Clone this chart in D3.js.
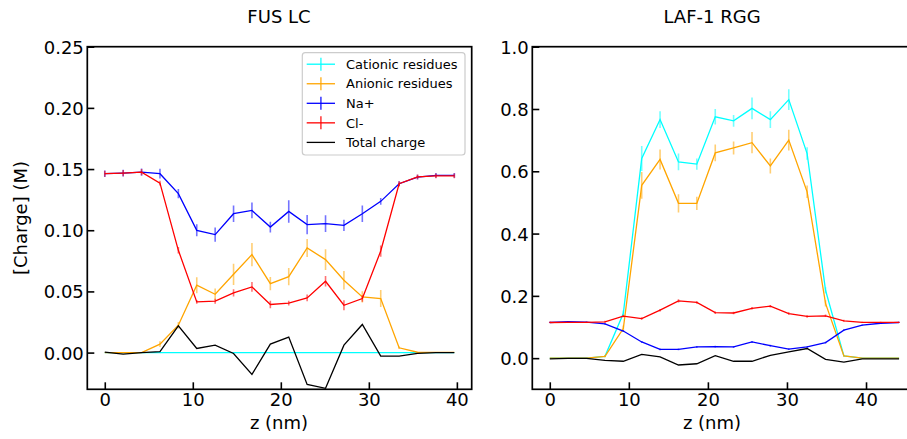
<!DOCTYPE html>
<html>
<head>
<meta charset="utf-8">
<script src="https://cdn.jsdelivr.net/npm/d3@7/dist/d3.min.js"></script>
<style>
  html, body { margin: 0; padding: 0; background: #fff; }
  svg { display: block; font-family: "DejaVu Sans", sans-serif; }
</style>
</head>
<body>
<svg id="chart" width="907" height="439"></svg>
<script>
// ---------- DATA ----------
const seriesNames = ["Cationic residues", "Anionic residues", "Na+", "Cl-", "Total charge"];
const xTicks = [0, 10, 20, 30, 40];
const fusYTicks = [0.00, 0.05, 0.10, 0.15, 0.20, 0.25];
const lafYTicks = [0.0, 0.2, 0.4, 0.6, 0.8, 1.0];

// FUS LC
const fusZ = [0, 2.09, 4.18, 6.27, 8.36, 10.45, 12.54, 14.63, 16.72, 18.81, 20.9, 22.99, 25.08, 27.17, 29.26, 31.35, 33.44, 35.53, 37.62, 39.71];
const fusCat = [0, 0, 0, 0, 0, 0, 0, 0, 0, 0, 0, 0, 0, 0, 0, 0, 0, 0, 0, 0];
const fusCatErr = [0, 0, 0, 0, 0, 0, 0, 0, 0, 0, 0, 0, 0, 0, 0, 0, 0, 0, 0, 0];
const fusAn = [0, 0, 0, 0.0069, 0.0224, 0.0551, 0.0477, 0.0640, 0.0801, 0.0564, 0.0621, 0.0855, 0.0760, 0.0591, 0.0455, 0.0442, 0.0039, 0.0003, 0.0002, 0.0001];
const fusAnErr = [0, 0, 0, 0.0024, 0.0027, 0.0065, 0.0046, 0.0087, 0.0095, 0.0054, 0.0070, 0.0074, 0.0084, 0.0076, 0.0046, 0.0070, 0.0010, 0, 0, 0];
const fusNa = [0.1462, 0.1467, 0.1475, 0.1462, 0.1299, 0.0999, 0.0964, 0.1135, 0.1162, 0.1026, 0.1154, 0.1046, 0.1054, 0.1040, 0.1135, 0.1236, 0.1380, 0.1434, 0.1448, 0.1448];
const fusNaErr = [0.0027, 0.0027, 0.0030, 0.0040, 0.0037, 0.0049, 0.0058, 0.0068, 0.0064, 0.0044, 0.0092, 0.0079, 0.0068, 0.0046, 0.0068, 0.0027, 0.0020, 0.0020, 0.0020, 0.0020];
const fusCl = [0.1462, 0.1467, 0.1475, 0.1385, 0.0836, 0.0414, 0.0420, 0.0488, 0.0537, 0.0393, 0.0404, 0.0447, 0.0583, 0.0387, 0.0442, 0.0830, 0.1380, 0.1436, 0.1444, 0.1444];
const fusClErr = [0.0025, 0.0025, 0.0025, 0.0020, 0.0027, 0.0015, 0.0020, 0.0030, 0.0040, 0.0030, 0.0020, 0.0027, 0.0043, 0.0040, 0.0027, 0.0046, 0.0020, 0.0020, 0.0020, 0.0020];
const fusTot = [0.0004, -0.0012, 0.0, 0.0007, 0.0219, 0.0034, 0.0061, -0.0007, -0.0178, 0.0069, 0.0127, -0.0260, -0.0292, 0.0061, 0.0230, -0.0029, -0.0029, -0.0007, 0, 0];

// LAF-1 RGG
const lafZ = [0, 2.33, 4.65, 6.98, 9.3, 11.63, 13.95, 16.28, 18.6, 20.93, 23.25, 25.58, 27.9, 30.23, 32.55, 34.88, 37.2, 39.53, 41.85, 44.18];
const lafCat = [0, 0, 0, 0.006, 0.143, 0.641, 0.766, 0.630, 0.623, 0.775, 0.762, 0.802, 0.766, 0.830, 0.657, 0.218, 0.007, 0, 0, 0];
const lafCatErr = [0, 0, 0, 0.003, 0.010, 0.040, 0.027, 0.027, 0.018, 0.025, 0.019, 0.035, 0.027, 0.033, 0.020, 0.010, 0.002, 0, 0, 0];
const lafAn = [0, 0, 0, 0.006, 0.095, 0.555, 0.638, 0.497, 0.497, 0.659, 0.675, 0.692, 0.617, 0.700, 0.534, 0.176, 0.007, 0, 0, 0];
const lafAnErr = [0, 0, 0, 0.003, 0.010, 0.043, 0.032, 0.029, 0.021, 0.027, 0.021, 0.034, 0.024, 0.033, 0.020, 0.010, 0.002, 0, 0, 0];
const lafNa = [0.1145, 0.117, 0.116, 0.110, 0.087, 0.052, 0.028, 0.028, 0.036, 0.037, 0.036, 0.052, 0.040, 0.029, 0.036, 0.050, 0.090, 0.106, 0.112, 0.1145];
const lafNaErr = [0.002, 0.002, 0.002, 0.003, 0.003, 0.003, 0.003, 0.003, 0.003, 0.003, 0.003, 0.003, 0.003, 0.003, 0.003, 0.003, 0.003, 0.002, 0.002, 0.002];
const lafCl = [0.1145, 0.115, 0.115, 0.1167, 0.135, 0.127, 0.154, 0.184, 0.179, 0.146, 0.145, 0.160, 0.167, 0.143, 0.134, 0.136, 0.120, 0.1146, 0.115, 0.115];
const lafClErr = [0.002, 0.002, 0.002, 0.003, 0.004, 0.004, 0.004, 0.005, 0.004, 0.004, 0.004, 0.004, 0.004, 0.004, 0.004, 0.004, 0.003, 0.002, 0.002, 0.002];
const lafTot = [-0.002, -0.001, -0.001, -0.007, -0.010, 0.012, 0.004, -0.022, -0.018, 0.008, -0.010, -0.010, 0.009, 0.020, 0.031, -0.004, -0.013, -0.002, -0.002, -0.002];

// ---------- STYLE ----------
const colors = ["#00ffff", "#ffa500", "#0000ff", "#ff0000", "#000000"];
const FONT = 18;

const svg = d3.select("#chart");
svg.append("rect").attr("width", 907).attr("height", 439).attr("fill", "#fff");

const plotTop = 46.7, plotBottom = 389.3;

const panels = [
  {
    title: "FUS LC",
    x: d3.scaleLinear().domain([-1.985, 41.685]).range([87.3, 471.7]),
    y: d3.scaleLinear().domain([-0.03, 0.25]).range([plotBottom, plotTop]),
    yTicks: fusYTicks, yFmt: d3.format(".2f"),
    z: fusZ, labelX: 279,
    series: [[fusCat, fusCatErr], [fusAn, fusAnErr], [fusNa, fusNaErr], [fusCl, fusClErr], [fusTot, null]],
    legend: true, ylabel: true
  },
  {
    title: "LAF-1 RGG",
    x: d3.scaleLinear().domain([-2.21, 46.41]).range([532.3, 916.7]),
    y: d3.scaleLinear().domain([-0.1, 1.0]).range([plotBottom, plotTop]),
    yTicks: lafYTicks, yFmt: d3.format(".1f"),
    z: lafZ, labelX: 712,
    series: [[lafCat, lafCatErr], [lafAn, lafAnErr], [lafNa, lafNaErr], [lafCl, lafClErr], [lafTot, null]],
    legend: false, ylabel: false
  }
];

panels.forEach((p, pi) => {
  const [x0, x1] = p.x.range();
  const g = svg.append("g");
  const clipId = "clip" + pi;
  svg.append("clipPath").attr("id", clipId)
    .append("rect").attr("x", x0).attr("y", plotTop).attr("width", x1 - x0).attr("height", plotBottom - plotTop);

  const plot = g.append("g").attr("clip-path", `url(#${clipId})`);
  const line = d3.line().x((d, i) => p.x(p.z[i])).y(d => p.y(d));

  p.series.forEach(([vals, errs], si) => {
    if (errs) {
      const pts = vals.map((v, i) => ({ z: p.z[i], v: v, e: errs[i] })).filter(d => d.e > 0);
      plot.append("g").selectAll("line").data(pts).join("line")
        .attr("x1", d => p.x(d.z)).attr("x2", d => p.x(d.z))
        .attr("y1", d => p.y(d.v - d.e)).attr("y2", d => p.y(d.v + d.e))
        .attr("stroke", colors[si]).attr("stroke-width", 1.6).attr("stroke-opacity", 0.55);
    }
    plot.append("path").datum(vals).attr("d", line)
      .attr("fill", "none").attr("stroke", colors[si]).attr("stroke-width", 1.3)
      .attr("stroke-linejoin", "miter");
  });

  // Axes with inward ticks
  const xAxis = d3.axisBottom(p.x).tickValues(xTicks).tickSize(-7).tickPadding(0).tickFormat(d3.format("d"));
  const gx = g.append("g").attr("transform", `translate(0,${plotBottom})`).call(xAxis);
  gx.select(".domain").remove();
  gx.selectAll(".tick line").attr("stroke", "#000").attr("stroke-width", 1.6);
  gx.selectAll(".tick text").attr("font-size", FONT).attr("font-family", "DejaVu Sans")
    .attr("fill", "#000").attr("y", 16.7).attr("dy", 0);

  const yAxis = d3.axisLeft(p.y).tickValues(p.yTicks).tickSize(-7).tickPadding(0).tickFormat(p.yFmt);
  const gy = g.append("g").attr("transform", `translate(${x0},0)`).call(yAxis);
  gy.select(".domain").remove();
  gy.selectAll(".tick line").attr("stroke", "#000").attr("stroke-width", 1.6);
  gy.selectAll(".tick text").attr("font-size", FONT).attr("font-family", "DejaVu Sans")
    .attr("fill", "#000").attr("x", -3.5).attr("dy", "0.36em");

  // frame
  g.append("rect").attr("x", x0).attr("y", plotTop).attr("width", x1 - x0).attr("height", plotBottom - plotTop)
    .attr("fill", "none").attr("stroke", "#000").attr("stroke-width", 1.7);

  // title
  g.append("text").attr("x", p.labelX).attr("y", 23).attr("text-anchor", "middle")
    .attr("font-size", FONT).attr("fill", "#000").text(p.title);
  // x label
  g.append("text").attr("x", p.labelX).attr("y", 429).attr("text-anchor", "middle")
    .attr("font-size", FONT).attr("fill", "#000").text("z (nm)");

  if (p.ylabel) {
    g.append("text").attr("transform", `translate(27,${(plotTop + plotBottom) / 2}) rotate(-90)`)
      .attr("text-anchor", "middle").attr("font-size", FONT).attr("fill", "#000").text("[Charge] (M)");
  }

  if (p.legend) {
    const lg = g.append("g");
    lg.append("rect").attr("x", 302.3).attr("y", 52.7).attr("width", 162.7).attr("height", 102.3)
      .attr("rx", 3).attr("fill", "#fff").attr("fill-opacity", 0.85)
      .attr("stroke", "#cccccc").attr("stroke-width", 1.2);
    const rowY = d3.scaleLinear().domain([0, 4]).range([64.2, 142.4]);
    seriesNames.forEach((name, si) => {
      const yy = rowY(si);
      lg.append("line").attr("x1", 306.7).attr("x2", 335).attr("y1", yy).attr("y2", yy)
        .attr("stroke", colors[si]).attr("stroke-width", 1.3);
      if (si < 4) {
        lg.append("line").attr("x1", 320.9).attr("x2", 320.9).attr("y1", yy - 6.5).attr("y2", yy + 6.5)
          .attr("stroke", colors[si]).attr("stroke-width", 1.6).attr("stroke-opacity", 0.75);
      }
      lg.append("text").attr("x", 346).attr("y", yy).attr("dy", "0.36em")
        .attr("font-size", 13).attr("fill", "#000").text(name);
    });
  }
});
</script>
</body>
</html>
